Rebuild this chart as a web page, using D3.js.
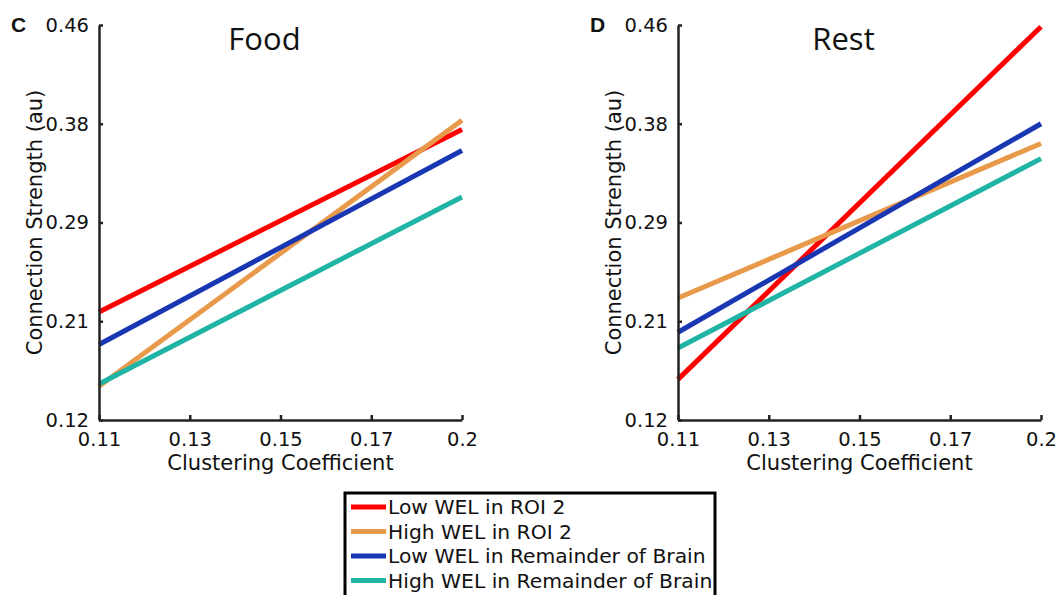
<!DOCTYPE html>
<html lang='en'>
<head>
  <meta charset='utf-8'>
  <script src="https://d3js.org/d3.v7.min.js"></script>
  <title>Connection strength vs clustering coefficient</title>
  <style>
    body { margin: 0; background: #fff; }
    svg text { font-family: "DejaVu Sans", sans-serif; fill: #111; }
  </style>
</head>
<body>
<div id="chart"></div>
<script>

// x runs 0.11 -> 0.19, last tick printed as "0.2"
const xEnds = [0.11, 0.19];
const xTicks = [0.11, 0.13, 0.15, 0.17, 0.19];
const xTickLabels = ["0.11", "0.13", "0.15", "0.17", "0.2"];
const yTicks = [0.12, 0.205, 0.29, 0.375, 0.46];
const yTickLabels = ["0.12", "0.21", "0.29", "0.38", "0.46"];

const seriesNames = ["Low WEL in ROI 2", "High WEL in ROI 2",
                     "Low WEL in Remainder of Brain", "High WEL in Remainder of Brain"];
const seriesColors = ["#ff0000", "#e8994a", "#1a37b3", "#1fb4a3"];

// [start, end] values per series
const foodValues = [[0.213, 0.370], [0.149, 0.378], [0.185, 0.352], [0.151, 0.312]];
const restValues = [[0.155, 0.4585], [0.225, 0.358], [0.1955, 0.375], [0.182, 0.345]];

const panels = [
  {letter: "C", title: "Food", values: foodValues, left: 99, right: 462},
  {letter: "D", title: "Rest", values: restValues, left: 678, right: 1041}
];

const W = 1059, H = 595;
const plotTop = 25, plotBottom = 420;

const svg = d3.select("#chart").append("svg")
    .attr("width", W).attr("height", H);

const y = d3.scaleLinear().domain([0.12, 0.46]).range([plotBottom, plotTop]);

panels.forEach(p => {
  const x = d3.scaleLinear().domain(xEnds).range([p.left, p.right]);
  const g = svg.append("g");

  // lines
  const line = d3.line().x(d => x(d[0])).y(d => y(d[1]));
  p.values.forEach((v, i) => {
    g.append("path")
      .datum([[xEnds[0], v[0]], [xEnds[1], v[1]]])
      .attr("d", line)
      .attr("fill", "none")
      .attr("stroke", seriesColors[i])
      .attr("stroke-width", 5);
  });

  // axes (ticks inside, like matlab)
  const yAxis = d3.axisLeft(y).tickValues(yTicks)
      .tickFormat((d, i) => yTickLabels[i]).tickSizeInner(-4).tickSizeOuter(0).tickPadding(10);
  const ya = g.append("g").attr("transform", `translate(${p.left},0)`).call(yAxis);

  const xAxis = d3.axisBottom(x).tickValues(xTicks)
      .tickFormat((d, i) => xTickLabels[i]).tickSizeInner(-5).tickSizeOuter(0).tickPadding(12);
  const xa = g.append("g").attr("transform", `translate(0,${plotBottom})`).call(xAxis);

  [ya, xa].forEach(a => {
    a.select(".domain").attr("stroke", "#222").attr("stroke-width", 2.5);
    a.selectAll(".tick line").attr("stroke", "#222").attr("stroke-width", 2.5);
    a.selectAll(".tick text").attr("font-size", 19.5).attr("fill", "#111")
      .style("font-family", "DejaVu Sans");
  });

  // axis titles
  g.append("text")
    .attr("x", (p.left + p.right) / 2).attr("y", 470)
    .attr("text-anchor", "middle").attr("font-size", 21)
    .text("Clustering Coefficient");
  g.append("text")
    .attr("transform", `translate(${p.left - 57},${(plotTop + plotBottom) / 2}) rotate(-90)`)
    .attr("text-anchor", "middle").attr("font-size", 21)
    .text("Connection Strength (au)");

  // panel title
  g.append("text")
    .attr("x", (p.left + p.right) / 2 - 16).attr("y", 50)
    .attr("text-anchor", "middle").attr("font-size", 31)
    .style("font-family", "Open Sans")
    .text(p.title);

  // panel letter
  g.append("text")
    .attr("x", p.left - 88).attr("y", 32)
    .attr("font-size", 21).attr("font-weight", "bold")
    .style("font-family", "Liberation Sans")
    .text(p.letter);
});

// legend
const lg = svg.append("g");
lg.append("rect")
  .attr("x", 345).attr("y", 493).attr("width", 370).attr("height", 120)
  .attr("fill", "#fff").attr("stroke", "#000").attr("stroke-width", 3);
seriesNames.forEach((name, i) => {
  const yy = 507 + i * 24.5;
  lg.append("line")
    .attr("x1", 351).attr("x2", 386).attr("y1", yy).attr("y2", yy)
    .attr("stroke", seriesColors[i]).attr("stroke-width", 5);
  lg.append("text")
    .attr("x", 388).attr("y", yy).attr("dy", "0.35em")
    .attr("font-size", 20.3)
    .text(name);
});

</script>
</body>
</html>
